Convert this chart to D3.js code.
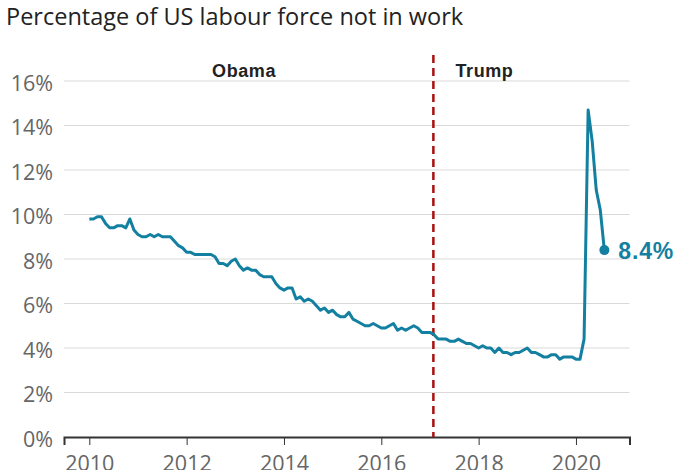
<!DOCTYPE html>
<html>
<head>
<meta charset="utf-8">
<script src="https://cdn.jsdelivr.net/npm/d3@7"></script>
<style>
  html, body { margin: 0; padding: 0; background: #fff; }
  svg { display: block; }
</style>
</head>
<body>
<svg id="chart" width="700" height="470"></svg>
<script>
// ---- data ----
const years = [2010, 2011, 2012, 2013, 2014, 2015, 2016, 2017, 2018, 2019, 2020];
const rate2010 = [9.8, 9.8, 9.9, 9.9, 9.6, 9.4, 9.4, 9.5, 9.5, 9.4, 9.8, 9.3];
const rate2011 = [9.1, 9.0, 9.0, 9.1, 9.0, 9.1, 9.0, 9.0, 9.0, 8.8, 8.6, 8.5];
const rate2012 = [8.3, 8.3, 8.2, 8.2, 8.2, 8.2, 8.2, 8.1, 7.8, 7.8, 7.7, 7.9];
const rate2013 = [8.0, 7.7, 7.5, 7.6, 7.5, 7.5, 7.3, 7.2, 7.2, 7.2, 6.9, 6.7];
const rate2014 = [6.6, 6.7, 6.7, 6.2, 6.3, 6.1, 6.2, 6.1, 5.9, 5.7, 5.8, 5.6];
const rate2015 = [5.7, 5.5, 5.4, 5.4, 5.6, 5.3, 5.2, 5.1, 5.0, 5.0, 5.1, 5.0];
const rate2016 = [4.9, 4.9, 5.0, 5.1, 4.8, 4.9, 4.8, 4.9, 5.0, 4.9, 4.7, 4.7];
const rate2017 = [4.7, 4.6, 4.4, 4.4, 4.4, 4.3, 4.3, 4.4, 4.3, 4.2, 4.2, 4.1];
const rate2018 = [4.0, 4.1, 4.0, 4.0, 3.8, 4.0, 3.8, 3.8, 3.7, 3.8, 3.8, 3.9];
const rate2019 = [4.0, 3.8, 3.8, 3.7, 3.6, 3.6, 3.7, 3.7, 3.5, 3.6, 3.6, 3.6];
const rate2020 = [3.5, 3.5, 4.4, 14.7, 13.3, 11.1, 10.2, 8.4];
const yTicks = [0, 2, 4, 6, 8, 10, 12, 14, 16];
const xTicks = [2010, 2012, 2014, 2016, 2018, 2020];
const presidents = ["Obama", "Trump"];
const inaugurationTrump = 2017.07;
const title = "Percentage of US labour force not in work";

const rateByYear = [rate2010, rate2011, rate2012, rate2013, rate2014, rate2015,
                    rate2016, rate2017, rate2018, rate2019, rate2020];
const series = [];
years.forEach((yr, i) => rateByYear[i].forEach((v, m) => series.push({ t: yr + m / 12, v })));

// ---- layout ----
const svg = d3.select("#chart");
const x = d3.scaleLinear().domain([2009.48, 2021.1]).range([64, 629.5]);
const y = d3.scaleLinear().domain([0, 16]).range([437, 81]);
const teal = "#1380A1";
const red = "#A8100E";

svg.append("text")
  .attr("x", 6).attr("y", 25)
  .attr("font-family", "'Open Sans', sans-serif")
  .attr("font-size", 23.5)
  .attr("fill", "#222")
  .text(title);

// gridlines
svg.append("g").selectAll("line")
  .data(yTicks.filter(d => d > 0))
  .join("line")
  .attr("x1", x.range()[0]).attr("x2", x.range()[1])
  .attr("y1", d => y(d)).attr("y2", d => y(d))
  .attr("stroke", "#d9d9d9").attr("stroke-width", 1);

// y labels
svg.append("g").selectAll("text")
  .data(yTicks)
  .join("text")
  .attr("x", 53).attr("y", d => y(d) + 9.5)
  .attr("text-anchor", "end")
  .attr("font-family", "'Open Sans', sans-serif")
  .attr("font-size", 21.5)
  .attr("fill", "#666")
  .text(d => d + "%");

// x axis
const xAxis = d3.axisBottom(x).tickValues(xTicks).tickFormat(d3.format("d")).tickSize(8).tickPadding(11);
const gx = svg.append("g").attr("transform", `translate(0,${y(0)})`).call(xAxis);
gx.select(".domain").attr("stroke", "#333").attr("stroke-width", 2);
gx.selectAll(".tick line").attr("stroke", "#333").attr("stroke-width", 1);
gx.selectAll(".tick text")
  .attr("font-family", "'Open Sans', sans-serif")
  .attr("font-size", 21.5)
  .attr("fill", "#666");

// president divider
svg.append("line")
  .attr("x1", x(inaugurationTrump)).attr("x2", x(inaugurationTrump))
  .attr("y1", 55).attr("y2", y(0))
  .attr("stroke", red).attr("stroke-width", 2.5)
  .attr("stroke-dasharray", "8,5");

svg.append("g").selectAll("text")
  .data(presidents)
  .join("text")
  .attr("x", (d, i) => i === 0 ? x(2013.18) : x(2018.12))
  .attr("y", 77)
  .attr("text-anchor", "middle")
  .attr("font-family", "'Liberation Sans', Arial, sans-serif")
  .attr("font-weight", "bold")
  .attr("font-size", 18)
  .attr("letter-spacing", 0.6)
  .attr("fill", "#222")
  .text(d => d);

// line
const line = d3.line().x(d => x(d.t)).y(d => y(d.v)).curve(d3.curveLinear);
svg.append("path")
  .datum(series)
  .attr("d", line)
  .attr("fill", "none")
  .attr("stroke", teal)
  .attr("stroke-width", 3)
  .attr("stroke-linejoin", "round");

const last = series[series.length - 1];
svg.append("circle")
  .attr("cx", x(last.t)).attr("cy", y(last.v))
  .attr("r", 5)
  .attr("fill", teal);

svg.append("text")
  .attr("x", x(last.t) + 14).attr("y", y(last.v) + 9)
  .attr("font-family", "'Liberation Sans', Arial, sans-serif")
  .attr("font-weight", "bold")
  .attr("font-size", 23)
  .attr("letter-spacing", 0.8)
  .attr("fill", teal)
  .text(last.v + "%");
</script>
</body>
</html>
